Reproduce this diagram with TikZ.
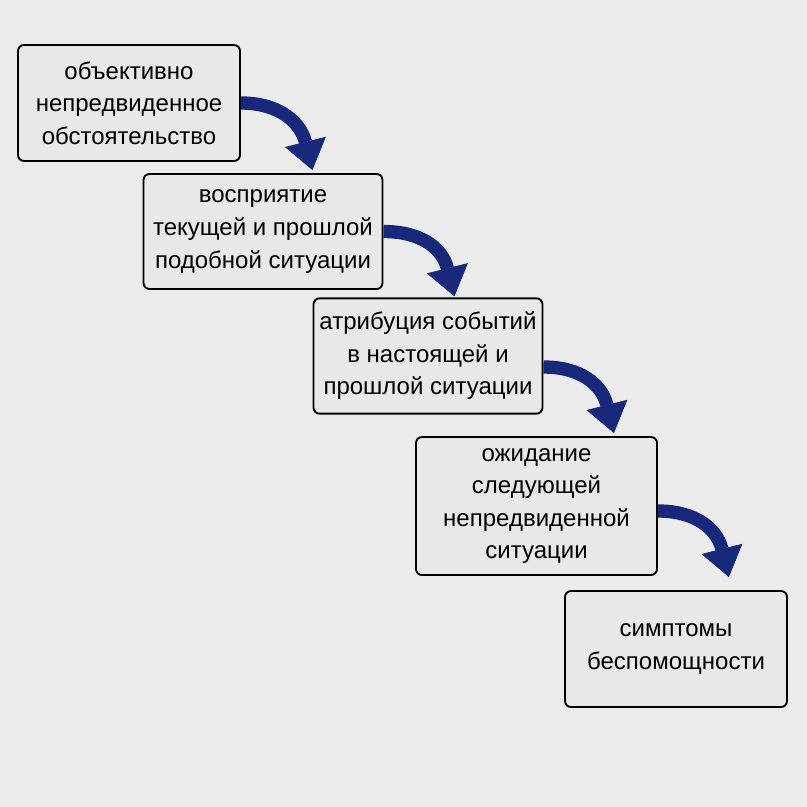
\documentclass[tikz,border=0pt]{standalone}
\usepackage{fontspec}
\setmainfont{Liberation Sans}
\usetikzlibrary{arrows.meta,calc}

\definecolor{bggray}{RGB}{235,235,235}
\definecolor{boxgray}{RGB}{232,232,232}
\definecolor{arrowblue}{RGB}{24,40,122}

\tikzset{every picture/.style={line width=0.75pt}}
\tikzset{
  stepbox/.style={draw=black, fill=boxgray, rounded corners=4.5pt, line width=1.4pt,
    align=center, inner sep=0pt, font=\fontsize{18}{24.4}\selectfont},
  bentarrow/.style={draw=arrowblue, line width=10pt,
    -{Triangle[length=21.75pt,width=31.5pt,line width=0.5pt]}}
}

\begin{document}
\begin{tikzpicture}[x=0.75pt,y=0.75pt,yscale=-1,xscale=1]
%set diagram to 807 x 807
\fill[bggray] (0,0) rectangle (807,807);
\useasboundingbox (0,0) rectangle (807,807);

%Shape: Rectangle [id:b1]
\node[stepbox, minimum width=166.5pt, minimum height=87pt] (b1) at (129,103)
  {объективно\\непредвиденное\\обстоятельство};
%Shape: Rectangle [id:b2]
\node[stepbox, minimum width=179.25pt, minimum height=86.25pt] (b2) at (263,231.5)
  {восприятие\\текущей и прошлой\\подобной ситуации};
%Shape: Rectangle [id:b3]
\node[stepbox, minimum width=171.75pt, minimum height=86.5pt] (b3) at (428,356)
  {атрибуция событий\\в настоящей и\\прошлой ситуации};
%Shape: Rectangle [id:b4]
\node[stepbox, minimum width=180.75pt, minimum height=103.5pt] (b4) at (536.5,506)
  {ожидание\\следующей\\непредвиденной\\ситуации};
%Shape: Rectangle [id:b5]
\node[stepbox, minimum width=166.5pt, minimum height=87pt] (b5) at (676,649)
  {симптомы\\беспомощности};

%Curved Arrows
\draw[bentarrow] (b1.east) .. controls +(38,0) and +(-12,-48) .. ($(b2.north east)+(-71,-3)$);
\draw[bentarrow] (b2.east) .. controls +(38,0) and +(-12,-48) .. ($(b3.north east)+(-89,-1)$);
\draw[bentarrow] ($(b3.east)+(0,11)$) .. controls +(38,0) and +(-12,-48) .. ($(b4.north east)+(-44,-3)$);
\draw[bentarrow] ($(b4.east)+(0,5)$) .. controls +(38,0) and +(-12,-48) .. ($(b5.north east)+(-59,-13)$);

\end{tikzpicture}
\end{document}
